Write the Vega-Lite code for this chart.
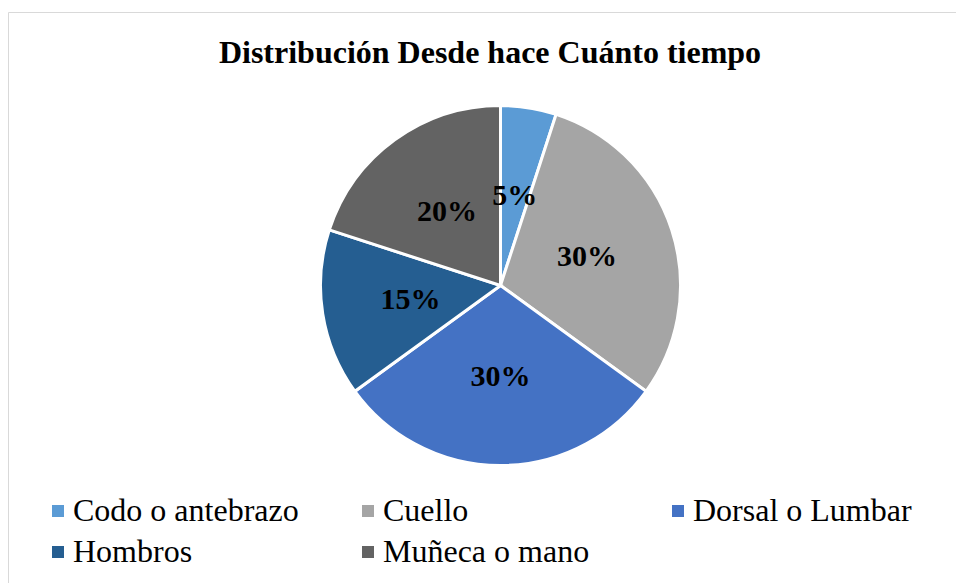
{
  "$schema": "https://vega.github.io/schema/vega-lite/v6.json",
  "autosize": "none",
  "width": 948,
  "height": 571,
  "padding": {"left": 8, "top": 12, "right": 0, "bottom": 0},
  "background": "white",
  "config": {
    "view": {"stroke": "#d9d9d9", "strokeWidth": 1},
    "font": "Liberation Serif"
  },
  "view": {"stroke": "#d9d9d9", "strokeWidth": 1, "fill": "white"},
  "title": {
    "text": "Distribución Desde hace Cuánto tiempo",
    "font": "Liberation Serif",
    "fontSize": 32,
    "fontWeight": "bold",
    "color": "black",
    "anchor": "middle",
    "frame": "group",
    "baseline": "alphabetic",
    "offset": 0,
    "dx": 8,
    "dy": 83
  },
  "data": {
    "values": [
      {"categoria": "Codo o antebrazo", "valor": 0.05},
      {"categoria": "Cuello", "valor": 0.30},
      {"categoria": "Dorsal o Lumbar", "valor": 0.30},
      {"categoria": "Hombros", "valor": 0.15},
      {"categoria": "Muñeca o mano", "valor": 0.20}
    ]
  },
  "encoding": {
    "theta": {"field": "valor", "type": "quantitative", "stack": true},
    "order": {"field": "categoria", "type": "ordinal", "sort": "ascending"}
  },
  "layer": [
    {
      "mark": {"type": "arc", "outerRadius": 180, "stroke": "white", "strokeWidth": 3, "xOffset": 18.5, "yOffset": -12},
      "encoding": {
        "color": {
          "field": "categoria",
          "type": "nominal",
          "scale": {
            "domain": ["Codo o antebrazo", "Cuello", "Dorsal o Lumbar", "Hombros", "Muñeca o mano"],
            "range": ["#5B9BD5", "#A5A5A5", "#4472C4", "#255E91", "#636363"]
          },
          "legend": {
            "title": null,
            "orient": "none",
            "legendX": 34,
            "legendY": 483,
            "direction": "horizontal",
            "columns": 3,
            "gridAlign": "all",
            "columnPadding": 53,
            "rowPadding": 9,
            "padding": 0,
            "symbolType": "square",
            "symbolSize": 144,
            "symbolStrokeWidth": 0,
            "labelFont": "Liberation Serif",
            "labelFontSize": 32,
            "labelColor": "black",
            "labelOffset": -1,
            "labelLimit": 400
          }
        }
      }
    },
    {
      "mark": {"type": "text", "radius": 91, "font": "Liberation Serif", "fontSize": 30, "fontWeight": "bold", "fill": "black", "xOffset": 18.5, "yOffset": -12, "baseline": "middle", "align": "center"},
      "encoding": {
        "text": {"field": "valor", "type": "quantitative", "format": ".0%"},
        "detail": {"field": "categoria", "type": "nominal"}
      }
    }
  ]
}
